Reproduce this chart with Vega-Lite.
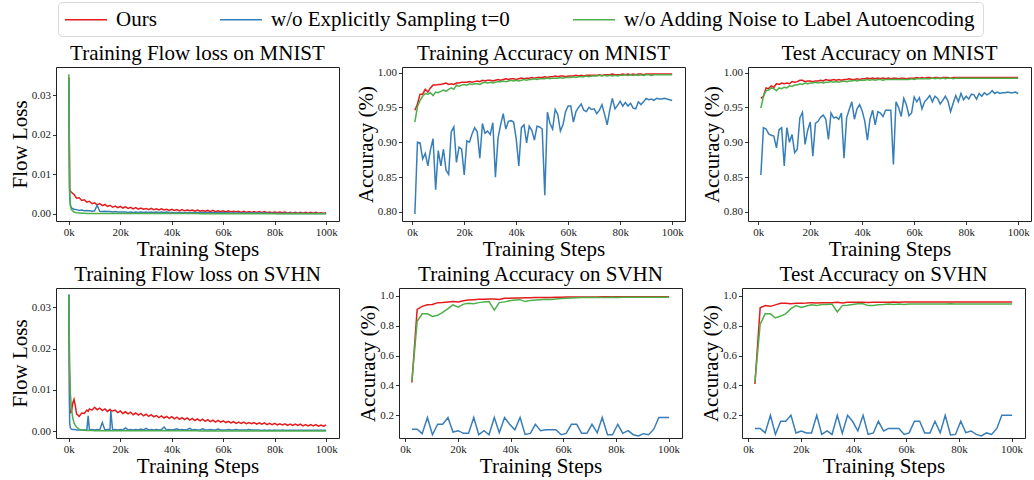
{
  "$schema": "https://vega.github.io/schema/vega-lite/v6.json",
  "padding": {"left": 8, "top": 1, "right": 0, "bottom": 0},
  "datasets": {
    "l1": [
      {"s":0,"a":0.0345,"b":0.034,"c":0.0353},{"s":0.3,"a":0.0064,"b":0.0045,"c":0.006},{"s":0.6,"a":0.0058,"b":0.0022,"c":0.0022},
      {"s":1,"a":0.0055,"b":0.0015,"c":0.0011},{"s":2,"a":0.0049,"b":0.0012,"c":0.0005},{"s":3,"a":0.004,"b":0.0011,"c":0.0003},
      {"s":4,"a":0.0041,"b":0.0009,"c":0.00025},{"s":5,"a":0.0034,"b":0.001,"c":0.0002},{"s":6,"a":0.0036,"b":0.0008,"c":0.00018},
      {"s":7,"a":0.003,"b":0.0009,"c":0.00015},{"s":8,"a":0.0032,"b":0.0008,"c":0.00015},{"s":9,"a":0.0026,"b":0.0007,"c":0.00013},
      {"s":10,"a":0.0028,"b":0.0008,"c":0.00013},{"s":11,"a":0.0023,"b":0.0022,"c":0.00012},{"s":12,"a":0.0026,"b":0.0007,"c":0.00012},
      {"s":13,"a":0.0021,"b":0.0006,"c":0.00011},{"s":14,"a":0.0024,"b":0.0007,"c":0.00011},{"s":15,"a":0.0019,"b":0.0006,"c":0.0001},
      {"s":16,"a":0.0022,"b":0.0006,"c":0.0001},{"s":17,"a":0.0017,"b":0.0005,"c":0.0001},{"s":18,"a":0.002,"b":0.0006,"c":0.0001},
      {"s":19,"a":0.0016,"b":0.0005,"c":0.0001},{"s":20,"a":0.0019,"b":0.0005,"c":0.0001},{"s":21,"a":0.0015,"b":0.0005,"c":0.0001},
      {"s":22,"a":0.0018,"b":0.0005,"c":0.0001},{"s":23,"a":0.0014,"b":0.0004,"c":0.0001},{"s":24,"a":0.0017,"b":0.0005,"c":0.0001},
      {"s":25,"a":0.0013,"b":0.0004,"c":0.0001},{"s":26,"a":0.0016,"b":0.0005,"c":0.0001},{"s":27,"a":0.0012,"b":0.0004,"c":0.0001},
      {"s":28,"a":0.0015,"b":0.0005,"c":0.0001},{"s":29,"a":0.0012,"b":0.0004,"c":0.0001},{"s":30,"a":0.0014,"b":0.0005,"c":0.0001},
      {"s":31,"a":0.0011,"b":0.0004,"c":0.0001},{"s":32,"a":0.0014,"b":0.0005,"c":0.0001},{"s":33,"a":0.0011,"b":0.0004,"c":0.0001},
      {"s":34,"a":0.0013,"b":0.0005,"c":0.0001},{"s":35,"a":0.001,"b":0.0004,"c":0.0001},{"s":36,"a":0.0013,"b":0.0005,"c":0.0001},
      {"s":37,"a":0.001,"b":0.0004,"c":0.0001},{"s":38,"a":0.0012,"b":0.0005,"c":0.0001},{"s":39,"a":0.0009,"b":0.0004,"c":0.0001},
      {"s":40,"a":0.0012,"b":0.0004,"c":0.0001},{"s":41,"a":0.0009,"b":0.0003,"c":0.0001},{"s":42,"a":0.0011,"b":0.0004,"c":0.0001},
      {"s":43,"a":0.0008,"b":0.0003,"c":0.0001},{"s":44,"a":0.0011,"b":0.0004,"c":0.0001},{"s":45,"a":0.0008,"b":0.0003,"c":0.0001},
      {"s":46,"a":0.001,"b":0.0004,"c":0.0001},{"s":47,"a":0.0008,"b":0.0003,"c":0.0001},{"s":48,"a":0.001,"b":0.0004,"c":0.0001},
      {"s":49,"a":0.0007,"b":0.0003,"c":0.0001},{"s":50,"a":0.001,"b":0.0004,"c":0.0001},{"s":51,"a":0.0007,"b":0.0003,"c":0.00008},
      {"s":52,"a":0.0009,"b":0.0004,"c":0.00008},{"s":53,"a":0.0007,"b":0.0003,"c":0.00008},{"s":54,"a":0.0009,"b":0.0004,"c":0.00008},
      {"s":55,"a":0.0006,"b":0.0003,"c":0.00008},{"s":56,"a":0.0009,"b":0.0004,"c":0.00008},{"s":57,"a":0.0006,"b":0.0003,"c":0.00008},
      {"s":58,"a":0.0008,"b":0.0004,"c":0.00008},{"s":59,"a":0.0006,"b":0.0003,"c":0.00008},{"s":60,"a":0.0008,"b":0.0003,"c":0.00008},
      {"s":61,"a":0.0005,"b":0.0003,"c":0.00007},{"s":62,"a":0.0008,"b":0.0003,"c":0.00007},{"s":63,"a":0.0005,"b":0.0002,"c":0.00007},
      {"s":64,"a":0.0007,"b":0.0003,"c":0.00007},{"s":65,"a":0.0005,"b":0.0002,"c":0.00007},{"s":66,"a":0.0007,"b":0.0003,"c":0.00007},
      {"s":67,"a":0.0004,"b":0.0002,"c":0.00007},{"s":68,"a":0.0007,"b":0.0003,"c":0.00007},{"s":69,"a":0.0004,"b":0.0002,"c":0.00007},
      {"s":70,"a":0.0006,"b":0.0003,"c":0.00007},{"s":71,"a":0.0004,"b":0.0002,"c":0.00006},{"s":72,"a":0.0006,"b":0.0003,"c":0.00006},
      {"s":73,"a":0.0004,"b":0.0002,"c":0.00006},{"s":74,"a":0.0006,"b":0.0003,"c":0.00006},{"s":75,"a":0.0003,"b":0.0002,"c":0.00006},
      {"s":76,"a":0.0006,"b":0.0003,"c":0.00006},{"s":77,"a":0.0003,"b":0.0002,"c":0.00006},{"s":78,"a":0.0005,"b":0.0002,"c":0.00006},
      {"s":79,"a":0.0003,"b":0.0002,"c":0.00006},{"s":80,"a":0.0005,"b":0.0002,"c":0.00006},{"s":81,"a":0.0003,"b":0.00015,"c":0.00005},
      {"s":82,"a":0.0005,"b":0.0002,"c":0.00005},{"s":83,"a":0.0003,"b":0.00015,"c":0.00005},{"s":84,"a":0.0005,"b":0.0002,"c":0.00005},
      {"s":85,"a":0.0002,"b":0.00015,"c":0.00005},{"s":86,"a":0.0004,"b":0.0002,"c":0.00005},{"s":87,"a":0.0002,"b":0.00015,"c":0.00005},
      {"s":88,"a":0.0004,"b":0.0002,"c":0.00005},{"s":89,"a":0.0002,"b":0.00015,"c":0.00005},{"s":90,"a":0.0004,"b":0.0002,"c":0.00005},
      {"s":91,"a":0.0002,"b":0.00015,"c":0.00005},{"s":92,"a":0.0004,"b":0.00015,"c":0.00005},{"s":93,"a":0.0002,"b":0.00012,"c":0.00005},
      {"s":94,"a":0.0004,"b":0.00015,"c":0.00005},{"s":95,"a":0.0002,"b":0.00012,"c":0.00005},{"s":96,"a":0.0004,"b":0.00015,"c":0.00005},
      {"s":97,"a":0.0002,"b":0.00012,"c":0.00005},{"s":98,"a":0.0003,"b":0.00015,"c":0.00005},{"s":99,"a":0.0002,"b":0.00012,"c":0.00005},
      {"s":100,"a":0.0003,"b":0.00015,"c":0.00005}
    ],
    "a1": [
      {"s":1,"a":0.946,"b":0.797,"c":0.929},{"s":2,"a":0.955,"b":0.9,"c":0.951},{"s":3,"a":0.969,"b":0.899,"c":0.96},{"s":4,"a":0.969,"b":0.876,"c":0.966},
      {"s":5,"a":0.976,"b":0.884,"c":0.97},{"s":6,"a":0.972,"b":0.866,"c":0.969},{"s":7,"a":0.978,"b":0.889,"c":0.971},{"s":8,"a":0.982,"b":0.905,"c":0.967},
      {"s":9,"a":0.982,"b":0.832,"c":0.972},{"s":10,"a":0.983,"b":0.888,"c":0.971},{"s":11,"a":0.983,"b":0.866,"c":0.973},{"s":12,"a":0.984,"b":0.89,"c":0.975},
      {"s":13,"a":0.985,"b":0.86,"c":0.973},{"s":14,"a":0.983,"b":0.854,"c":0.976},{"s":15,"a":0.984,"b":0.915,"c":0.978},{"s":16,"a":0.983,"b":0.922,"c":0.976},
      {"s":17,"a":0.985,"b":0.871,"c":0.982},{"s":18,"a":0.985,"b":0.893,"c":0.98},{"s":19,"a":0.986,"b":0.89,"c":0.982},{"s":20,"a":0.986,"b":0.853,"c":0.983},
      {"s":21,"a":0.986,"b":0.902,"c":0.982},{"s":22,"a":0.987,"b":0.9,"c":0.984},{"s":23,"a":0.986,"b":0.912,"c":0.983},{"s":24,"a":0.987,"b":0.921,"c":0.984},
      {"s":25,"a":0.988,"b":0.915,"c":0.984},{"s":26,"a":0.987,"b":0.877,"c":0.983},{"s":27,"a":0.989,"b":0.927,"c":0.985},{"s":28,"a":0.988,"b":0.913,"c":0.986},
      {"s":29,"a":0.989,"b":0.916,"c":0.985},{"s":30,"a":0.989,"b":0.911,"c":0.986},{"s":31,"a":0.988,"b":0.928,"c":0.985},{"s":32,"a":0.989,"b":0.85,"c":0.986},
      {"s":33,"a":0.99,"b":0.906,"c":0.987},{"s":34,"a":0.989,"b":0.925,"c":0.987},{"s":35,"a":0.99,"b":0.941,"c":0.988},{"s":36,"a":0.991,"b":0.919,"c":0.987},
      {"s":37,"a":0.99,"b":0.93,"c":0.988},{"s":38,"a":0.991,"b":0.931,"c":0.989},{"s":39,"a":0.991,"b":0.929,"c":0.988},{"s":40,"a":0.99,"b":0.905,"c":0.989},
      {"s":41,"a":0.991,"b":0.866,"c":0.988},{"s":42,"a":0.992,"b":0.921,"c":0.989},{"s":43,"a":0.991,"b":0.925,"c":0.99},{"s":44,"a":0.992,"b":0.899,"c":0.989},
      {"s":45,"a":0.992,"b":0.923,"c":0.99},{"s":46,"a":0.993,"b":0.917,"c":0.99},{"s":47,"a":0.992,"b":0.903,"c":0.991},{"s":48,"a":0.993,"b":0.923,"c":0.99},
      {"s":49,"a":0.993,"b":0.922,"c":0.991},{"s":50,"a":0.993,"b":0.919,"c":0.991},{"s":51,"a":0.994,"b":0.824,"c":0.991},{"s":52,"a":0.993,"b":0.943,"c":0.992},
      {"s":53,"a":0.994,"b":0.927,"c":0.991},{"s":54,"a":0.994,"b":0.919,"c":0.992},{"s":55,"a":0.995,"b":0.947,"c":0.992},{"s":56,"a":0.994,"b":0.94,"c":0.992},
      {"s":57,"a":0.995,"b":0.916,"c":0.993},{"s":58,"a":0.995,"b":0.925,"c":0.992},{"s":59,"a":0.994,"b":0.944,"c":0.993},{"s":60,"a":0.995,"b":0.952,"c":0.993},
      {"s":61,"a":0.995,"b":0.952,"c":0.993},{"s":62,"a":0.995,"b":0.929,"c":0.994},{"s":63,"a":0.996,"b":0.944,"c":0.993},{"s":64,"a":0.995,"b":0.95,"c":0.994},
      {"s":65,"a":0.996,"b":0.955,"c":0.994},{"s":66,"a":0.995,"b":0.946,"c":0.994},{"s":67,"a":0.996,"b":0.944,"c":0.995},{"s":68,"a":0.996,"b":0.95,"c":0.994},
      {"s":69,"a":0.996,"b":0.947,"c":0.995},{"s":70,"a":0.996,"b":0.948,"c":0.995},{"s":71,"a":0.996,"b":0.941,"c":0.995},{"s":72,"a":0.997,"b":0.946,"c":0.996},
      {"s":73,"a":0.996,"b":0.954,"c":0.995},{"s":74,"a":0.997,"b":0.94,"c":0.996},{"s":75,"a":0.997,"b":0.925,"c":0.995},{"s":76,"a":0.997,"b":0.946,"c":0.996},
      {"s":77,"a":0.998,"b":0.963,"c":0.995},{"s":78,"a":0.997,"b":0.948,"c":0.996},{"s":79,"a":0.997,"b":0.953,"c":0.995},{"s":80,"a":0.997,"b":0.959,"c":0.996},
      {"s":81,"a":0.998,"b":0.952,"c":0.996},{"s":82,"a":0.997,"b":0.957,"c":0.997},{"s":83,"a":0.998,"b":0.952,"c":0.996},{"s":84,"a":0.997,"b":0.956,"c":0.997},
      {"s":85,"a":0.998,"b":0.949,"c":0.996},{"s":86,"a":0.997,"b":0.948,"c":0.997},{"s":87,"a":0.998,"b":0.958,"c":0.996},{"s":88,"a":0.998,"b":0.954,"c":0.997},
      {"s":89,"a":0.997,"b":0.958,"c":0.996},{"s":90,"a":0.998,"b":0.963,"c":0.997},{"s":91,"a":0.998,"b":0.961,"c":0.997},{"s":92,"a":0.998,"b":0.962,"c":0.996},
      {"s":93,"a":0.998,"b":0.96,"c":0.997},{"s":94,"a":0.998,"b":0.963,"c":0.997},{"s":95,"a":0.998,"b":0.962,"c":0.997},{"s":96,"a":0.998,"b":0.962,"c":0.997},
      {"s":97,"a":0.998,"b":0.963,"c":0.997},{"s":98,"a":0.998,"b":0.962,"c":0.997},{"s":99,"a":0.998,"b":0.961,"c":0.997},{"s":100,"a":0.998,"b":0.96,"c":0.997}
    ],
    "t1": [
      {"s":1,"a":0.963,"b":0.853,"c":0.949},{"s":2,"a":0.966,"b":0.921,"c":0.966},{"s":3,"a":0.978,"b":0.919,"c":0.974},{"s":4,"a":0.977,"b":0.912,"c":0.975},
      {"s":5,"a":0.981,"b":0.91,"c":0.978},{"s":6,"a":0.979,"b":0.909,"c":0.977},{"s":7,"a":0.984,"b":0.892,"c":0.974},{"s":8,"a":0.983,"b":0.918,"c":0.978},
      {"s":9,"a":0.985,"b":0.921,"c":0.977},{"s":10,"a":0.984,"b":0.866,"c":0.979},{"s":11,"a":0.985,"b":0.921,"c":0.978},{"s":12,"a":0.984,"b":0.9,"c":0.981},
      {"s":13,"a":0.987,"b":0.911,"c":0.98},{"s":14,"a":0.986,"b":0.885,"c":0.982},{"s":15,"a":0.987,"b":0.89,"c":0.982},{"s":16,"a":0.989,"b":0.935,"c":0.984},
      {"s":17,"a":0.989,"b":0.943,"c":0.983},{"s":18,"a":0.987,"b":0.897,"c":0.985},{"s":19,"a":0.988,"b":0.917,"c":0.984},{"s":20,"a":0.988,"b":0.929,"c":0.985},
      {"s":21,"a":0.987,"b":0.88,"c":0.985},{"s":22,"a":0.988,"b":0.927,"c":0.986},{"s":23,"a":0.988,"b":0.93,"c":0.985},{"s":24,"a":0.989,"b":0.936,"c":0.986},
      {"s":25,"a":0.988,"b":0.939,"c":0.985},{"s":26,"a":0.99,"b":0.933,"c":0.986},{"s":27,"a":0.989,"b":0.904,"c":0.986},{"s":28,"a":0.989,"b":0.942,"c":0.987},
      {"s":29,"a":0.99,"b":0.935,"c":0.986},{"s":30,"a":0.989,"b":0.936,"c":0.987},{"s":31,"a":0.99,"b":0.933,"c":0.986},{"s":32,"a":0.989,"b":0.942,"c":0.987},
      {"s":33,"a":0.99,"b":0.877,"c":0.988},{"s":34,"a":0.99,"b":0.935,"c":0.987},{"s":35,"a":0.991,"b":0.947,"c":0.988},{"s":36,"a":0.99,"b":0.958,"c":0.988},
      {"s":37,"a":0.99,"b":0.933,"c":0.989},{"s":38,"a":0.991,"b":0.948,"c":0.988},{"s":39,"a":0.99,"b":0.954,"c":0.989},{"s":40,"a":0.991,"b":0.945,"c":0.989},
      {"s":41,"a":0.991,"b":0.93,"c":0.989},{"s":42,"a":0.992,"b":0.903,"c":0.99},{"s":43,"a":0.991,"b":0.933,"c":0.989},{"s":44,"a":0.992,"b":0.946,"c":0.99},
      {"s":45,"a":0.991,"b":0.925,"c":0.989},{"s":46,"a":0.992,"b":0.944,"c":0.99},{"s":47,"a":0.991,"b":0.942,"c":0.99},{"s":48,"a":0.992,"b":0.937,"c":0.989},
      {"s":49,"a":0.991,"b":0.946,"c":0.99},{"s":50,"a":0.992,"b":0.946,"c":0.99},{"s":51,"a":0.991,"b":0.946,"c":0.99},{"s":52,"a":0.992,"b":0.868,"c":0.99},
      {"s":53,"a":0.992,"b":0.958,"c":0.99},{"s":54,"a":0.991,"b":0.95,"c":0.99},{"s":55,"a":0.992,"b":0.937,"c":0.99},{"s":56,"a":0.992,"b":0.963,"c":0.99},
      {"s":57,"a":0.991,"b":0.954,"c":0.99},{"s":58,"a":0.992,"b":0.938,"c":0.99},{"s":59,"a":0.992,"b":0.942,"c":0.991},{"s":60,"a":0.992,"b":0.965,"c":0.99},
      {"s":61,"a":0.993,"b":0.958,"c":0.991},{"s":62,"a":0.992,"b":0.964,"c":0.991},{"s":63,"a":0.993,"b":0.948,"c":0.991},{"s":64,"a":0.992,"b":0.958,"c":0.991},
      {"s":65,"a":0.993,"b":0.962,"c":0.991},{"s":66,"a":0.993,"b":0.967,"c":0.991},{"s":67,"a":0.992,"b":0.958,"c":0.992},{"s":68,"a":0.993,"b":0.966,"c":0.991},
      {"s":69,"a":0.993,"b":0.963,"c":0.992},{"s":70,"a":0.992,"b":0.955,"c":0.991},{"s":71,"a":0.993,"b":0.96,"c":0.992},{"s":72,"a":0.993,"b":0.966,"c":0.991},
      {"s":73,"a":0.993,"b":0.959,"c":0.992},{"s":74,"a":0.992,"b":0.944,"c":0.992},{"s":75,"a":0.993,"b":0.956,"c":0.991},{"s":76,"a":0.993,"b":0.967,"c":0.992},
      {"s":77,"a":0.993,"b":0.958,"c":0.992},{"s":78,"a":0.993,"b":0.97,"c":0.992},{"s":79,"a":0.993,"b":0.961,"c":0.992},{"s":80,"a":0.993,"b":0.966,"c":0.992},
      {"s":81,"a":0.993,"b":0.962,"c":0.992},{"s":82,"a":0.993,"b":0.969,"c":0.992},{"s":83,"a":0.993,"b":0.968,"c":0.992},{"s":84,"a":0.993,"b":0.962,"c":0.992},
      {"s":85,"a":0.993,"b":0.97,"c":0.992},{"s":86,"a":0.993,"b":0.966,"c":0.992},{"s":87,"a":0.993,"b":0.971,"c":0.992},{"s":88,"a":0.993,"b":0.968,"c":0.992},
      {"s":89,"a":0.993,"b":0.97,"c":0.992},{"s":90,"a":0.993,"b":0.974,"c":0.992},{"s":91,"a":0.993,"b":0.97,"c":0.992},{"s":92,"a":0.993,"b":0.972,"c":0.992},
      {"s":93,"a":0.993,"b":0.97,"c":0.992},{"s":94,"a":0.993,"b":0.971,"c":0.992},{"s":95,"a":0.993,"b":0.971,"c":0.992},{"s":96,"a":0.993,"b":0.972,"c":0.992},
      {"s":97,"a":0.993,"b":0.971,"c":0.992},{"s":98,"a":0.993,"b":0.971,"c":0.992},{"s":99,"a":0.993,"b":0.972,"c":0.992},{"s":100,"a":0.993,"b":0.97,"c":0.992}
    ],
    "l2": [
      {"s":0,"a":0.033,"b":0.0332,"c":0.033},{"s":0.3,"a":0.006,"b":0.002,"c":0.016},{"s":0.6,"a":0.0045,"b":0.0008,"c":0.009},
      {"s":1,"a":0.0046,"b":0.0005,"c":0.0055},{"s":1.5,"a":0.0068,"b":0.0004,"c":0.0033},{"s":2,"a":0.0077,"b":0.0004,"c":0.002},
      {"s":2.5,"a":0.0062,"b":0.0004,"c":0.0014},{"s":3,"a":0.0042,"b":0.0003,"c":0.001},{"s":4,"a":0.0036,"b":0.0003,"c":0.0005},
      {"s":5,"a":0.0044,"b":0.0003,"c":0.0003},{"s":6,"a":0.0043,"b":0.0003,"c":0.0002},{"s":7,"a":0.0051,"b":0.0004,"c":0.00016},
      {"s":7.5,"a":0.0048,"b":0.0037,"c":0.00015},{"s":8,"a":0.0054,"b":0.0003,"c":0.00015},{"s":9,"a":0.0051,"b":0.0004,"c":0.00014},
      {"s":10,"a":0.0058,"b":0.0003,"c":0.00013},{"s":11,"a":0.0052,"b":0.0004,"c":0.00012},{"s":12,"a":0.0056,"b":0.0003,"c":0.00012},
      {"s":13,"a":0.005,"b":0.0021,"c":0.00011},{"s":14,"a":0.0054,"b":0.0003,"c":0.00011},{"s":15,"a":0.0048,"b":0.0004,"c":0.0001},
      {"s":16,"a":0.0053,"b":0.0004,"c":0.0001},{"s":16.3,"a":0.005,"b":0.0049,"c":0.0001},{"s":17,"a":0.0049,"b":0.0003,"c":0.0001},
      {"s":18,"a":0.0051,"b":0.0004,"c":0.0001},{"s":19,"a":0.0045,"b":0.0003,"c":0.0001},{"s":20,"a":0.0049,"b":0.0004,"c":0.0001},
      {"s":21,"a":0.0043,"b":0.0003,"c":0.0001},{"s":22,"a":0.0047,"b":0.0008,"c":0.0001},{"s":23,"a":0.0042,"b":0.0003,"c":0.0001},
      {"s":24,"a":0.0046,"b":0.0004,"c":0.0001},{"s":25,"a":0.004,"b":0.0003,"c":0.0001},{"s":26,"a":0.0044,"b":0.0004,"c":0.0001},
      {"s":27,"a":0.0039,"b":0.0003,"c":0.0001},{"s":28,"a":0.0043,"b":0.0005,"c":0.0001},{"s":29,"a":0.0037,"b":0.0003,"c":0.0001},
      {"s":30,"a":0.0041,"b":0.0007,"c":0.0001},{"s":31,"a":0.0036,"b":0.0003,"c":0.0001},{"s":32,"a":0.004,"b":0.0004,"c":0.0001},
      {"s":33,"a":0.0035,"b":0.0003,"c":0.0001},{"s":34,"a":0.0038,"b":0.0004,"c":0.0001},{"s":35,"a":0.0033,"b":0.0003,"c":0.0001},
      {"s":36,"a":0.0037,"b":0.0004,"c":0.0001},{"s":37,"a":0.0032,"b":0.001,"c":0.0001},{"s":38,"a":0.0036,"b":0.0003,"c":0.0001},
      {"s":39,"a":0.0031,"b":0.0004,"c":0.0001},{"s":40,"a":0.0035,"b":0.0003,"c":0.0001},{"s":41,"a":0.003,"b":0.0004,"c":0.00008},
      {"s":42,"a":0.0034,"b":0.0006,"c":0.00008},{"s":43,"a":0.0029,"b":0.0003,"c":0.00008},{"s":44,"a":0.0033,"b":0.0004,"c":0.00008},
      {"s":45,"a":0.0028,"b":0.0003,"c":0.00008},{"s":46,"a":0.0032,"b":0.0004,"c":0.00008},{"s":47,"a":0.0027,"b":0.0007,"c":0.00008},
      {"s":48,"a":0.0031,"b":0.0003,"c":0.00008},{"s":49,"a":0.0026,"b":0.0004,"c":0.00008},{"s":50,"a":0.003,"b":0.0003,"c":0.00008},
      {"s":51,"a":0.0025,"b":0.0003,"c":0.00007},{"s":52,"a":0.0029,"b":0.0006,"c":0.00007},{"s":53,"a":0.0024,"b":0.0003,"c":0.00007},
      {"s":54,"a":0.0028,"b":0.0003,"c":0.00007},{"s":55,"a":0.0023,"b":0.0004,"c":0.00007},{"s":56,"a":0.0027,"b":0.0003,"c":0.00007},
      {"s":57,"a":0.0022,"b":0.0003,"c":0.00007},{"s":58,"a":0.0026,"b":0.0005,"c":0.00007},{"s":59,"a":0.0022,"b":0.0003,"c":0.00007},
      {"s":60,"a":0.0025,"b":0.0003,"c":0.00006},{"s":61,"a":0.0021,"b":0.0003,"c":0.00006},{"s":62,"a":0.0024,"b":0.0004,"c":0.00006},
      {"s":63,"a":0.002,"b":0.0003,"c":0.00006},{"s":64,"a":0.0023,"b":0.0003,"c":0.00006},{"s":65,"a":0.0019,"b":0.0004,"c":0.00006},
      {"s":66,"a":0.0022,"b":0.0003,"c":0.00006},{"s":67,"a":0.0019,"b":0.0003,"c":0.00006},{"s":68,"a":0.0022,"b":0.0003,"c":0.00006},
      {"s":69,"a":0.0018,"b":0.0003,"c":0.00006},{"s":70,"a":0.0021,"b":0.0004,"c":0.00005},{"s":71,"a":0.0018,"b":0.0003,"c":0.00005},
      {"s":72,"a":0.0021,"b":0.0003,"c":0.00005},{"s":73,"a":0.0017,"b":0.0003,"c":0.00005},{"s":74,"a":0.002,"b":0.0003,"c":0.00005},
      {"s":75,"a":0.0017,"b":0.0002,"c":0.00005},{"s":76,"a":0.002,"b":0.0003,"c":0.00005},{"s":77,"a":0.0016,"b":0.0002,"c":0.00005},
      {"s":78,"a":0.0019,"b":0.0003,"c":0.00005},{"s":79,"a":0.0016,"b":0.0002,"c":0.00005},{"s":80,"a":0.0019,"b":0.0003,"c":0.00005},
      {"s":81,"a":0.0015,"b":0.0002,"c":0.00005},{"s":82,"a":0.0018,"b":0.0002,"c":0.00005},{"s":83,"a":0.0015,"b":0.0003,"c":0.00005},
      {"s":84,"a":0.0018,"b":0.0002,"c":0.00005},{"s":85,"a":0.0014,"b":0.0002,"c":0.00005},{"s":86,"a":0.0017,"b":0.0002,"c":0.00005},
      {"s":87,"a":0.0014,"b":0.0002,"c":0.00005},{"s":88,"a":0.0017,"b":0.0002,"c":0.00005},{"s":89,"a":0.0014,"b":0.0002,"c":0.00005},
      {"s":90,"a":0.0017,"b":0.0002,"c":0.00005},{"s":91,"a":0.0013,"b":0.0002,"c":0.00005},{"s":92,"a":0.0016,"b":0.0002,"c":0.00005},
      {"s":93,"a":0.0013,"b":0.0002,"c":0.00005},{"s":94,"a":0.0016,"b":0.0002,"c":0.00005},{"s":95,"a":0.0013,"b":0.0002,"c":0.00005},
      {"s":96,"a":0.0016,"b":0.0002,"c":0.00005},{"s":97,"a":0.0012,"b":0.0002,"c":0.00005},{"s":98,"a":0.0015,"b":0.0002,"c":0.00005},
      {"s":99,"a":0.0012,"b":0.0002,"c":0.00005},{"s":100,"a":0.0015,"b":0.0002,"c":0.00005}
    ],
    "a2": [
      {"s":2.5,"a":0.42,"b":0.107,"c":0.43},{"s":4.5,"a":0.91,"b":0.107,"c":0.83},{"s":6.4,"a":0.93,"b":0.077,"c":0.88},{"s":8.4,"a":0.94,"b":0.185,"c":0.88},
      {"s":10.3,"a":0.942,"b":0.07,"c":0.862},{"s":12.3,"a":0.955,"b":0.14,"c":0.87},{"s":14.2,"a":0.956,"b":0.14,"c":0.89},{"s":16.2,"a":0.96,"b":0.185,"c":0.915},
      {"s":18.1,"a":0.962,"b":0.088,"c":0.94},{"s":20.1,"a":0.96,"b":0.097,"c":0.925},{"s":22.1,"a":0.968,"b":0.079,"c":0.945},{"s":24,"a":0.972,"b":0.079,"c":0.95},
      {"s":26,"a":0.975,"b":0.185,"c":0.948},{"s":27.9,"a":0.978,"b":0.07,"c":0.955},{"s":29.9,"a":0.978,"b":0.097,"c":0.96},{"s":31.8,"a":0.98,"b":0.07,"c":0.962},
      {"s":33.8,"a":0.98,"b":0.185,"c":0.905},{"s":35.7,"a":0.976,"b":0.083,"c":0.955},{"s":37.7,"a":0.984,"b":0.185,"c":0.96},{"s":39.6,"a":0.985,"b":0.14,"c":0.968},
      {"s":41.6,"a":0.986,"b":0.103,"c":0.972},{"s":43.6,"a":0.986,"b":0.185,"c":0.975},{"s":45.5,"a":0.987,"b":0.072,"c":0.962},{"s":47.5,"a":0.988,"b":0.079,"c":0.97},
      {"s":49.4,"a":0.989,"b":0.14,"c":0.973},{"s":51.4,"a":0.989,"b":0.097,"c":0.975},{"s":53.3,"a":0.99,"b":0.103,"c":0.977},{"s":55.3,"a":0.99,"b":0.103,"c":0.976},
      {"s":57.2,"a":0.991,"b":0.103,"c":0.98},{"s":59.2,"a":0.991,"b":0.07,"c":0.982},{"s":61.1,"a":0.992,"b":0.079,"c":0.985},{"s":63.1,"a":0.992,"b":0.14,"c":0.986},
      {"s":65.1,"a":0.992,"b":0.14,"c":0.988},{"s":67,"a":0.993,"b":0.079,"c":0.99},{"s":69,"a":0.993,"b":0.079,"c":0.989},{"s":70.9,"a":0.993,"b":0.14,"c":0.99},
      {"s":72.9,"a":0.993,"b":0.083,"c":0.99},{"s":74.8,"a":0.994,"b":0.185,"c":0.99},{"s":76.8,"a":0.994,"b":0.07,"c":0.99},{"s":78.7,"a":0.994,"b":0.07,"c":0.991},
      {"s":80.7,"a":0.994,"b":0.14,"c":0.99},{"s":82.6,"a":0.994,"b":0.079,"c":0.991},{"s":84.6,"a":0.995,"b":0.097,"c":0.991},{"s":86.6,"a":0.995,"b":0.07,"c":0.991},
      {"s":88.5,"a":0.995,"b":0.062,"c":0.991},{"s":90.5,"a":0.995,"b":0.077,"c":0.991},{"s":92.4,"a":0.995,"b":0.07,"c":0.991},{"s":94.4,"a":0.995,"b":0.107,"c":0.991},
      {"s":96.3,"a":0.995,"b":0.185,"c":0.991},{"s":98.3,"a":0.995,"b":0.185,"c":0.991},{"s":100.2,"a":0.995,"b":0.185,"c":0.991}
    ],
    "t2": [
      {"s":2.5,"a":0.41,"b":0.112,"c":0.42},{"s":4.5,"a":0.92,"b":0.112,"c":0.81},{"s":6.4,"a":0.935,"b":0.082,"c":0.88},{"s":8.4,"a":0.93,"b":0.2,"c":0.88},
      {"s":10.3,"a":0.94,"b":0.072,"c":0.852},{"s":12.3,"a":0.95,"b":0.16,"c":0.865},{"s":14.2,"a":0.95,"b":0.16,"c":0.88},{"s":16.2,"a":0.948,"b":0.2,"c":0.915},
      {"s":18.1,"a":0.95,"b":0.082,"c":0.935},{"s":20.1,"a":0.95,"b":0.095,"c":0.922},{"s":22.1,"a":0.952,"b":0.082,"c":0.932},{"s":24,"a":0.955,"b":0.082,"c":0.94},
      {"s":26,"a":0.953,"b":0.2,"c":0.935},{"s":27.9,"a":0.955,"b":0.072,"c":0.942},{"s":29.9,"a":0.955,"b":0.095,"c":0.942},{"s":31.8,"a":0.955,"b":0.072,"c":0.945},
      {"s":33.8,"a":0.957,"b":0.2,"c":0.893},{"s":35.7,"a":0.952,"b":0.079,"c":0.935},{"s":37.7,"a":0.957,"b":0.2,"c":0.937},{"s":39.6,"a":0.957,"b":0.16,"c":0.942},
      {"s":41.6,"a":0.958,"b":0.095,"c":0.947},{"s":43.6,"a":0.958,"b":0.2,"c":0.947},{"s":45.5,"a":0.956,"b":0.072,"c":0.935},{"s":47.5,"a":0.958,"b":0.082,"c":0.935},
      {"s":49.4,"a":0.957,"b":0.16,"c":0.94},{"s":51.4,"a":0.958,"b":0.095,"c":0.942},{"s":53.3,"a":0.958,"b":0.112,"c":0.945},{"s":55.3,"a":0.959,"b":0.112,"c":0.942},
      {"s":57.2,"a":0.958,"b":0.112,"c":0.945},{"s":59.2,"a":0.959,"b":0.072,"c":0.943},{"s":61.1,"a":0.959,"b":0.082,"c":0.945},{"s":63.1,"a":0.959,"b":0.16,"c":0.945},
      {"s":65.1,"a":0.96,"b":0.16,"c":0.946},{"s":67,"a":0.96,"b":0.082,"c":0.945},{"s":69,"a":0.96,"b":0.082,"c":0.946},{"s":70.9,"a":0.96,"b":0.16,"c":0.946},
      {"s":72.9,"a":0.96,"b":0.082,"c":0.946},{"s":74.8,"a":0.96,"b":0.2,"c":0.946},{"s":76.8,"a":0.96,"b":0.068,"c":0.947},{"s":78.7,"a":0.96,"b":0.072,"c":0.946},
      {"s":80.7,"a":0.96,"b":0.16,"c":0.946},{"s":82.6,"a":0.96,"b":0.084,"c":0.946},{"s":84.6,"a":0.96,"b":0.095,"c":0.946},{"s":86.6,"a":0.96,"b":0.072,"c":0.946},
      {"s":88.5,"a":0.96,"b":0.062,"c":0.946},{"s":90.5,"a":0.96,"b":0.082,"c":0.946},{"s":92.4,"a":0.96,"b":0.072,"c":0.946},{"s":94.4,"a":0.96,"b":0.112,"c":0.946},
      {"s":96.3,"a":0.96,"b":0.2,"c":0.946},{"s":98.3,"a":0.96,"b":0.2,"c":0.946},{"s":100.2,"a":0.96,"b":0.2,"c":0.946}
    ]
  },
  "vconcat": [
    {
      "spacing": 14,
      "hconcat": [
        {
          "title": "Training Flow loss on MNIST",
          "width": 283, "height": 154,
          "data": {"name": "l1"},
          "transform": [{"fold": ["a", "b", "c"], "as": ["k", "v"]}],
          "mark": {"type": "line", "strokeWidth": 1.5, "clip": true},
          "encoding": {
            "x": {"field": "s", "type": "quantitative", "scale": {"domain": [-5, 105], "nice": false, "zero": false}, "axis": {"values": [0, 20, 40, 60, 80, 100], "labelExpr": "datum.value + 'k'", "title": "Training Steps"}},
            "y": {"field": "v", "type": "quantitative", "scale": {"domain": [-0.00177, 0.0371], "nice": false, "zero": false}, "axis": {"values": [0, 0.01, 0.02, 0.03], "format": ".2f", "title": "Flow Loss"}},
            "color": {"field": "k", "type": "nominal", "scale": {"domain": ["a", "b", "c"], "range": ["#e41a1c", "#377eb8", "#4daf4a"]}, "legend": {"title": null, "labelExpr": "datum.label == 'a' ? 'Ours' : datum.label == 'b' ? 'w/o Explicitly Sampling t=0' : 'w/o Adding Noise to Label Autoencoding'"}}
          }
        },
        {
          "title": "Training Accuracy on MNIST",
          "width": 283, "height": 154,
          "data": {"name": "a1"},
          "transform": [{"fold": ["a", "b", "c"], "as": ["k", "v"]}],
          "mark": {"type": "line", "strokeWidth": 1.5, "clip": true},
          "encoding": {
            "x": {"field": "s", "type": "quantitative", "scale": {"domain": [-3.95, 104.95], "nice": false, "zero": false}, "axis": {"values": [0, 20, 40, 60, 80, 100], "labelExpr": "datum.value + 'k'", "title": "Training Steps"}},
            "y": {"field": "v", "type": "quantitative", "scale": {"domain": [0.787, 1.008], "nice": false, "zero": false}, "axis": {"values": [0.8, 0.85, 0.9, 0.95, 1.0], "format": ".2f", "title": "Accuracy (%)"}},
            "color": {"field": "k", "type": "nominal", "scale": {"domain": ["a", "b", "c"], "range": ["#e41a1c", "#377eb8", "#4daf4a"]}, "legend": {"title": null, "labelExpr": "datum.label == 'a' ? 'Ours' : datum.label == 'b' ? 'w/o Explicitly Sampling t=0' : 'w/o Adding Noise to Label Autoencoding'"}}
          }
        },
        {
          "title": "Test Accuracy on MNIST",
          "width": 283, "height": 154,
          "data": {"name": "t1"},
          "transform": [{"fold": ["a", "b", "c"], "as": ["k", "v"]}],
          "mark": {"type": "line", "strokeWidth": 1.5, "clip": true},
          "encoding": {
            "x": {"field": "s", "type": "quantitative", "scale": {"domain": [-3.95, 104.95], "nice": false, "zero": false}, "axis": {"values": [0, 20, 40, 60, 80, 100], "labelExpr": "datum.value + 'k'", "title": "Training Steps"}},
            "y": {"field": "v", "type": "quantitative", "scale": {"domain": [0.787, 1.008], "nice": false, "zero": false}, "axis": {"values": [0.8, 0.85, 0.9, 0.95, 1.0], "format": ".2f", "title": "Accuracy (%)"}},
            "color": {"field": "k", "type": "nominal", "scale": {"domain": ["a", "b", "c"], "range": ["#e41a1c", "#377eb8", "#4daf4a"]}, "legend": {"title": null, "labelExpr": "datum.label == 'a' ? 'Ours' : datum.label == 'b' ? 'w/o Explicitly Sampling t=0' : 'w/o Adding Noise to Label Autoencoding'"}}
          }
        }
      ]
    },
    {
      "spacing": 17,
      "hconcat": [
        {
          "title": "Training Flow loss on SVHN",
          "width": 283, "height": 150,
          "data": {"name": "l2"},
          "transform": [{"fold": ["a", "b", "c"], "as": ["k", "v"]}],
          "mark": {"type": "line", "strokeWidth": 1.5, "clip": true},
          "encoding": {
            "x": {"field": "s", "type": "quantitative", "scale": {"domain": [-5, 105], "nice": false, "zero": false}, "axis": {"values": [0, 20, 40, 60, 80, 100], "labelExpr": "datum.value + 'k'", "title": "Training Steps"}},
            "y": {"field": "v", "type": "quantitative", "scale": {"domain": [-0.00165, 0.0347], "nice": false, "zero": false}, "axis": {"values": [0, 0.01, 0.02, 0.03], "format": ".2f", "title": "Flow Loss"}},
            "color": {"field": "k", "type": "nominal", "scale": {"domain": ["a", "b", "c"], "range": ["#e41a1c", "#377eb8", "#4daf4a"]}, "legend": {"title": null, "labelExpr": "datum.label == 'a' ? 'Ours' : datum.label == 'b' ? 'w/o Explicitly Sampling t=0' : 'w/o Adding Noise to Label Autoencoding'"}}
          }
        },
        {
          "title": "Training Accuracy on SVHN",
          "width": 283, "height": 150,
          "data": {"name": "a2"},
          "transform": [{"fold": ["a", "b", "c"], "as": ["k", "v"]}],
          "mark": {"type": "line", "strokeWidth": 1.5, "clip": true},
          "encoding": {
            "x": {"field": "s", "type": "quantitative", "scale": {"domain": [-2.4, 105.1], "nice": false, "zero": false}, "axis": {"values": [0, 20, 40, 60, 80, 100], "labelExpr": "datum.value + 'k'", "title": "Training Steps"}},
            "y": {"field": "v", "type": "quantitative", "scale": {"domain": [0.048, 1.053], "nice": false, "zero": false}, "axis": {"values": [0.2, 0.4, 0.6, 0.8, 1.0], "format": ".1f", "title": "Accuracy (%)"}},
            "color": {"field": "k", "type": "nominal", "scale": {"domain": ["a", "b", "c"], "range": ["#e41a1c", "#377eb8", "#4daf4a"]}, "legend": {"title": null, "labelExpr": "datum.label == 'a' ? 'Ours' : datum.label == 'b' ? 'w/o Explicitly Sampling t=0' : 'w/o Adding Noise to Label Autoencoding'"}}
          }
        },
        {
          "title": "Test Accuracy on SVHN",
          "width": 283, "height": 150,
          "data": {"name": "t2"},
          "transform": [{"fold": ["a", "b", "c"], "as": ["k", "v"]}],
          "mark": {"type": "line", "strokeWidth": 1.5, "clip": true},
          "encoding": {
            "x": {"field": "s", "type": "quantitative", "scale": {"domain": [-2.4, 105.1], "nice": false, "zero": false}, "axis": {"values": [0, 20, 40, 60, 80, 100], "labelExpr": "datum.value + 'k'", "title": "Training Steps"}},
            "y": {"field": "v", "type": "quantitative", "scale": {"domain": [0.048, 1.053], "nice": false, "zero": false}, "axis": {"values": [0.2, 0.4, 0.6, 0.8, 1.0], "format": ".1f", "title": "Accuracy (%)"}},
            "color": {"field": "k", "type": "nominal", "scale": {"domain": ["a", "b", "c"], "range": ["#e41a1c", "#377eb8", "#4daf4a"]}, "legend": {"title": null, "labelExpr": "datum.label == 'a' ? 'Ours' : datum.label == 'b' ? 'w/o Explicitly Sampling t=0' : 'w/o Adding Noise to Label Autoencoding'"}}
          }
        }
      ]
    }
  ],
  "spacing": 3,
  "config": {
    "font": "Liberation Serif",
    "background": "#ffffff",
    "view": {"stroke": "#222222", "strokeWidth": 1},
    "title": {"font": "Liberation Serif", "fontSize": 21, "fontWeight": "normal", "color": "#000000", "offset": 3},
    "axis": {
      "grid": false, "domain": false, "ticks": true, "tickSize": 3.5, "tickColor": "#000000", "tickWidth": 0.8,
      "labelFont": "Liberation Serif", "labelFontSize": 11, "labelColor": "#222222", "labelPadding": 2,
      "titleFont": "Liberation Serif", "titleFontSize": 21, "titleFontWeight": "normal", "titleColor": "#000000", "titlePadding": 1
    },
    "legend": {
      "orient": "top", "direction": "horizontal", "offset": 6,
      "layout": {"top": {"anchor": "middle"}},
      "labelFont": "Liberation Serif", "labelFontSize": 21, "labelColor": "#000000", "labelOffset": 29, "labelLimit": 600,
      "symbolType": "M-1,0H3", "symbolSize": 441, "symbolStrokeWidth": 1.5,
      "columnPadding": 60, "padding": 6, "strokeColor": "#d9d9d9", "cornerRadius": 4
    }
  }
}
